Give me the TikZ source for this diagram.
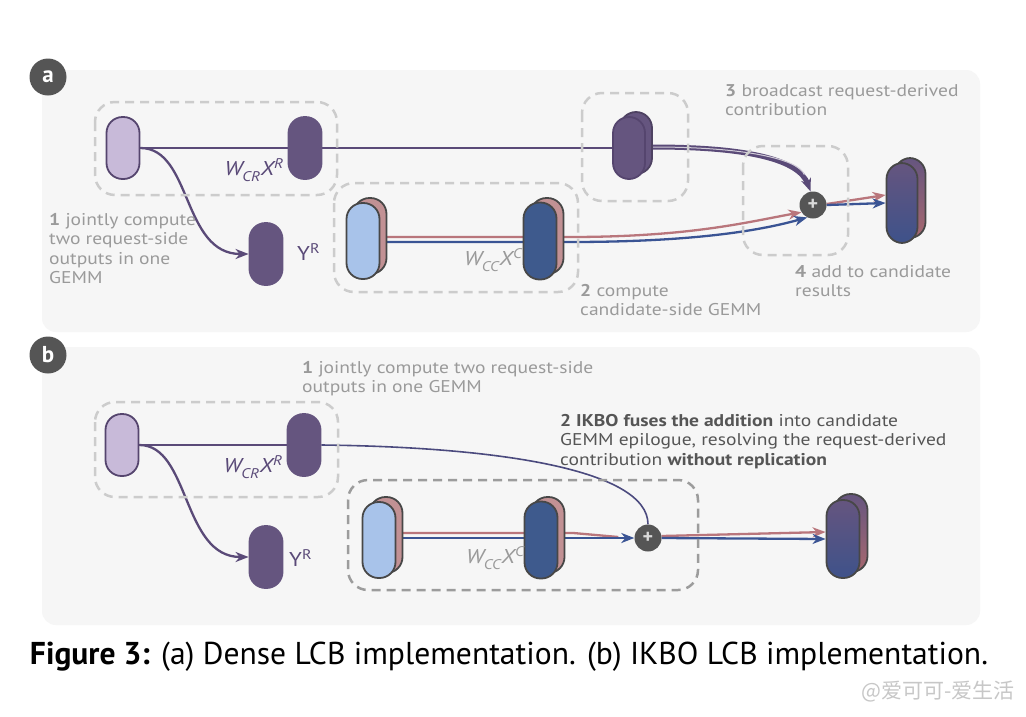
\documentclass[tikz,border=0pt]{standalone}
\usepackage{fontspec}
\setmainfont{PT Sans}
\newfontfamily\notefont{PT Sans}[FakeStretch=1.15]
\newfontfamily\cjkfont{Noto Sans CJK SC}
\usetikzlibrary{arrows.meta,calc}
\pgfdeclarelayer{back}
\pgfdeclarelayer{bg}
\pgfsetlayers{back,bg,main}
\definecolor{panelbg}{HTML}{F6F6F6}
\definecolor{lav}{HTML}{C8BAD9}
\definecolor{purp}{HTML}{65557F}
\definecolor{purpbd}{HTML}{55456E}
\definecolor{purpdk}{HTML}{4E4262}
\definecolor{purpln}{HTML}{5A4A78}
\definecolor{curveb}{HTML}{4B4A7E}
\definecolor{lblue}{HTML}{A8C3EA}
\definecolor{dblue}{HTML}{3E5A8D}
\definecolor{dblueb}{HTML}{3E528A}
\definecolor{rose}{HTML}{C29194}
\definecolor{roseD}{HTML}{A8686F}
\definecolor{cpink}{HTML}{B9767C}
\definecolor{cblue}{HTML}{3A5494}
\definecolor{edge}{HTML}{474747}
\definecolor{dashgray}{HTML}{CCCCCC}
\definecolor{dashdark}{HTML}{9C9C9C}
\definecolor{txtgray}{HTML}{9A9A9A}
\definecolor{txtdark}{HTML}{555555}
\definecolor{taggray}{HTML}{555555}
\tikzset{
  >={Stealth[length=13pt,width=10pt,inset=4pt]},
  pill/.style={draw, line width=1.8pt, inner sep=0pt, minimum width=33pt, rounded corners=16pt},
  reqin/.style={pill, fill=lav, draw=purpbd, minimum height=62pt},
  reqout/.style={pill, fill=purp, draw=purp, minimum height=62pt},
  reqbk/.style={pill, fill=purp, draw=purpdk, minimum height=62pt, minimum width=32pt},
  candin/.style={pill, fill=lblue, draw=edge, minimum height=76pt},
  candout/.style={pill, fill=dblue, draw=edge, minimum height=77pt},
  candbk/.style={pill, fill=rose, draw=edge, minimum height=76pt},
  resfront/.style={pill, top color=purp, bottom color=dblueb, draw=edge, minimum height=80pt, minimum width=31pt},
  resback/.style={pill, top color=purp, bottom color=roseD, draw=edge, minimum height=80pt, minimum width=31pt},
  plusc/.style={circle, fill=taggray, minimum size=27pt, inner sep=0pt, text=white!85!black, font=\bfseries\fontsize{20}{20}\selectfont},
  dbox/.style={draw=dashgray, line width=2.5pt, dash pattern=on 9pt off 6pt, rounded corners=20pt},
  dboxdark/.style={dbox, draw=dashdark},
  panel/.style={fill=panelbg, rounded corners=14pt},
  tag/.style={circle, fill=taggray, minimum size=37pt, inner sep=0pt, text=white, font=\bfseries\fontsize{23}{23}\selectfont},
  note/.style={anchor=north west, inner sep=0pt, align=left, text=txtgray, font=\notefont\fontsize{17}{19.5}\selectfont},
  mlab/.style={inner sep=0pt, font=\notefont\fontsize{20}{20}\selectfont},
  purl/.style={draw=purpln, line width=1.8pt},
  pinkl/.style={draw=cpink, line width=2.3pt},
  bluel/.style={draw=cblue, line width=2.3pt},
}
\newcommand{\sbx}[1]{{\fontsize{14}{14}\selectfont #1}}
\begin{document}
\begin{tikzpicture}[x=1pt,y=-1pt]
\useasboundingbox (0,0) rectangle (1026,716);
\begin{pgfonlayer}{back}
  \fill[white] (0,0) rectangle (1026,716);
  \fill[panel] (42,70) rectangle (980,332);
  \fill[panel] (42,347) rectangle (980,625);
\end{pgfonlayer}

% ---------- panel a ----------
\node[tag] (taga) at (48,77) {a};
\draw[dbox] (95,102) rectangle (337,195);
\draw[dbox] (334,183) rectangle (578,292);
\draw[dbox] (582,93) rectangle (688,201);
\draw[dbox] (743,146) rectangle (848,255);

\node[reqin] (ina) at (123,148) {};
\node[reqout] (wcra) at (305,148) {};
\node[reqout] (yra) at (266,254) {};
\node[reqbk] (bcab) at (636,143) {};
\node[reqbk, draw=purpbd] (bca) at (629,148) {};
\node[candbk] (cinab) at (370,236) {};
\node[candin] (cina) at (363,241) {};
\node[candbk] (wccab) at (547,236) {};
\node[candout] (wcca) at (540,241) {};
\node[resback] (outab) at (910,198) {};
\node[resfront] (outa) at (902,203) {};
\node[plusc] (plusa) at (813,205) {+};

\node[mlab, text=purpln] (lwcra) at (254,170) {\itshape W\kern-0.5pt\raisebox{-6pt}{\sbx{CR}}\kern0.5pt X\raisebox{7pt}{\sbx{R}}};
\node[mlab, text=purpln, anchor=west] (lyra) at (297,252) {Y\raisebox{7pt}{\sbx{R}}};
\node[mlab, text=txtgray] (lwcca) at (493,260) {\itshape W\kern-0.5pt\raisebox{-6pt}{\sbx{CC}}\kern0.5pt X\raisebox{7pt}{\sbx{C}}};

\node[note] (na1) at (49,213) {\textbf{1} jointly compute\\two request-side\\outputs in one\\GEMM};
\node[note] (na2) at (580,284) {\textbf{2} compute\\candidate-side GEMM};
\node[note] (na3) at (725,84) {\textbf{3} broadcast request-derived\\contribution};
\node[note] (na4) at (795,265) {\textbf{4} add to candidate\\results};

\begin{pgfonlayer}{bg}
  \draw[purl] (ina.east) -- (bca.west);
  \draw[purl, line width=2.3pt, ->] (ina.east) .. controls (192,148) and (182,254) .. (yra.west);
  \draw[purl, line width=5pt, ->] ($(bcab.east)+(0,4)$) .. controls +(95,0) and +(-12,-32) .. (plusa.100);
  \draw[white!70!purp, line width=1pt, shorten >=18pt] ($(bcab.east)+(0,4)$) .. controls +(95,0) and +(-12,-32) .. (plusa.100);
  \draw[pinkl, ->] ($(cina.east)+(0,-4)$) -- ($(wcca.east)+(12,-4)$) .. controls +(120,0) and +(-55,10) .. (plusa.212);
  \draw[bluel, ->] ($(cina.east)+(0,1)$) -- ($(wcca.east)+(12,1)$) .. controls +(120,0) and +(-50,14) .. (plusa.245);
  \draw[pinkl, ->] ($(plusa.east)+(0,-1)$) -- ($(outa.west)+(0,-8)$);
  \draw[bluel, ->] (plusa.east) -- (outa.west);
\end{pgfonlayer}

% ---------- panel b ----------
\node[tag] (tagb) at (48,355) {b};
\draw[dbox] (95,402) rectangle (338,497);
\draw[dboxdark] (348,480) rectangle (698,590);

\node[reqin] (inb) at (122,445) {};
\node[reqout] (wcrb) at (304,445) {};
\node[reqout] (yrb) at (266,557) {};
\node[candbk] (cinbb) at (386,535) {};
\node[candin] (cinb) at (379,540) {};
\node[candbk] (wccbb) at (548,535) {};
\node[candout] (wccb) at (541,540) {};
\node[resback, minimum height=78pt, minimum width=33pt] (outbb) at (851,533) {};
\node[resfront, minimum height=78pt, minimum width=33pt] (outb) at (843,539) {};
\node[plusc] (plusb) at (648,538) {+};

\node[mlab, text=purpln] (lwcrb) at (253,467) {\itshape W\kern-0.5pt\raisebox{-6pt}{\sbx{CR}}\kern0.5pt X\raisebox{7pt}{\sbx{R}}};
\node[mlab, text=purpln, anchor=west] (lyrb) at (289,558) {Y\raisebox{7pt}{\sbx{R}}};
\node[mlab, text=txtgray] (lwccb) at (495,558) {\itshape W\kern-0.5pt\raisebox{-6pt}{\sbx{CC}}\kern0.5pt X\raisebox{7pt}{\sbx{C}}};

\node[note] (nb1) at (302,361) {\textbf{1} jointly compute two request-side\\outputs in one GEMM};
\node[note, text=txtdark] (nb2) at (560,414) {\textbf{2 IKBO fuses the addition} into candidate\\GEMM epilogue, resolving the request-derived\\contribution \textbf{without replication}};

\begin{pgfonlayer}{bg}
  \draw[purl] (inb.east) -- (wcrb.west);
  \draw[draw=curveb, line width=1.6pt] (wcrb.east) .. controls (500,447) and (648,470) .. (plusb.north);
  \draw[purl, line width=2.3pt, ->] (inb.east) .. controls (190,445) and (182,557) .. (yrb.west);
  \draw[pinkl] ($(cinb.east)+(0,-7)$) -- ($(wccb.east)+(15,-7)$) -- ($(plusb.west)+(-16,-1)$);
  \draw[bluel, ->] ($(cinb.east)+(0,-2)$) -- (plusb.west);
  \draw[pinkl, ->] ($(plusb.east)+(0,-2)$) -- ($(outb.west)+(0,-7)$);
  \draw[bluel, ->] (plusb.east) -- (outb.west);
\end{pgfonlayer}

% ---------- caption ----------
\node[inner sep=0pt] (cap) at (509,657) {\resizebox{958pt}{!}{\fontsize{28}{28}\selectfont\textbf{Figure 3:} (a) Dense LCB implementation. (b) IKBO LCB implementation.}};
\node[inner sep=0pt, anchor=east, text=black!22] (wm) at (1015,691) {\cjkfont\fontsize{21}{21}\selectfont @爱可可-爱生活};
\end{tikzpicture}
\end{document}
